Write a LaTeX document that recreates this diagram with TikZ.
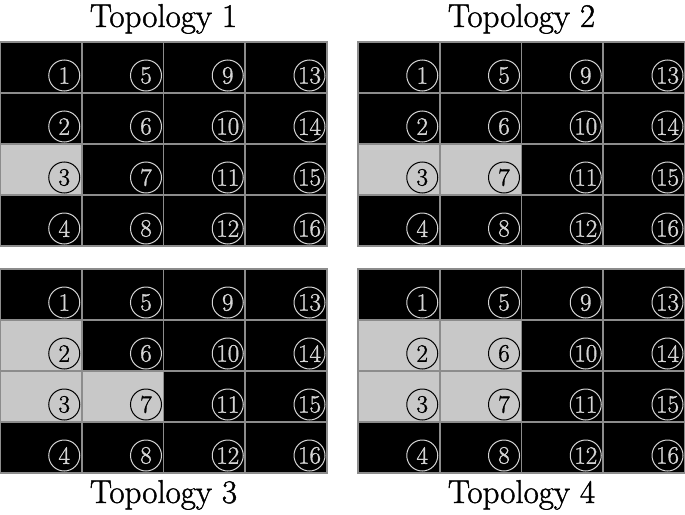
\documentclass[tikz,border=0pt]{standalone}
\usepackage{fontspec}
\newfontfamily\heavyfont{Latin Modern Roman}[FakeBold=1.3]
\definecolor{cellgray}{HTML}{C8C8C8}
\definecolor{gridline}{HTML}{8C8C8C}
\definecolor{marklight}{HTML}{D4D4D4}
\tikzset{
  cellbase/.style={draw=gridline, line width=1.6pt, minimum width=81.75pt, minimum height=51pt, inner sep=0pt, outer sep=0pt, anchor=north west},
  blackcell/.style={cellbase, fill=black},
  graycell/.style={cellbase, fill=cellgray},
  markbase/.style={circle, minimum size=31pt, inner sep=0pt, line width=1pt, font=\heavyfont\fontsize{25}{25}\selectfont},
  lightmark/.style={markbase, draw=marklight, text=marklight},
  darkmark/.style={markbase, draw=black, text=black},
  title/.style={font=\heavyfont\fontsize{33}{33}\selectfont, anchor=base, inner sep=0pt}
}
\begin{document}
\begin{tikzpicture}[x=1pt,y=-1pt]
\useasboundingbox (0,0) rectangle (685,514);
\foreach \t/\ox/\oy/\grays in {1/0/42/{3}, 2/358/42/{3,7}, 3/0/269/{2,3,7}, 4/358/269/{2,3,6,7}} {
  \foreach \n in {1,...,16} {
    \pgfmathtruncatemacro\col{int((\n-1)/4)}
    \pgfmathtruncatemacro\row{mod(\n-1,4)}
    \gdef\cellstyle{blackcell}\gdef\markstyle{lightmark}
    \foreach \g in \grays {\ifnum\g=\n\relax \gdef\cellstyle{graycell}\gdef\markstyle{darkmark}\fi}
    \node[\cellstyle] (t\t c\n) at ({\ox+\col*81.75},{\oy+\row*51}) {};
    \node[\markstyle] (t\t m\n) at ([shift={(-17.5,-17.5)}]t\t c\n.south east) {\n};
  }
}
\node[title] (title1) at (163.5,27) {Topology 1};
\node[title] (title2) at (521.5,27) {Topology 2};
\node[title] (title3) at (163.5,503) {Topology 3};
\node[title] (title4) at (521.5,503) {Topology 4};
\end{tikzpicture}
\end{document}
